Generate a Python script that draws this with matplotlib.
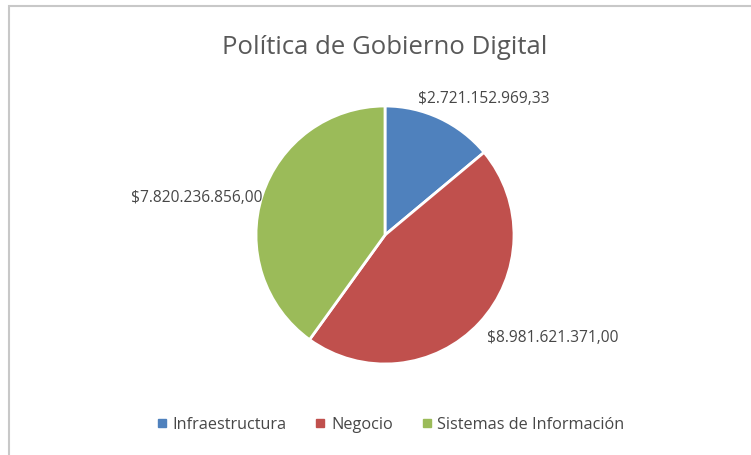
import matplotlib
matplotlib.use("Agg")
import matplotlib.pyplot as plt
from matplotlib.patches import Rectangle
from matplotlib.lines import Line2D

# Budget by component of the digital government policy
categories = ["Infraestructura", "Negocio", "Sistemas de Información"]
values = [2721152969.33, 8981621371.00, 7820236856.00]
labels = ["$2.721.152.969,33", "$8.981.621.371,00", "$7.820.236.856,00"]
colors = ["#4F81BD", "#C0504D", "#9BBB59"]

W, H, DPI = 751, 455, 100
cx, cy, R = 385, 235, 129  # pie centre and radius in pixels (from top-left)

# label anchors in pie-radius units, relative to the centre
label_pos = [(0.255, 1.054, "left"), (0.79, -0.798, "left"), (-0.953, 0.287, "right")]

plt.rcParams["font.family"] = ["Open Sans", "DejaVu Sans"]
fig = plt.figure(figsize=(W / DPI, H / DPI), dpi=DPI)
fig.patch.set_facecolor("white")

# chart area frame
fig.patches.append(Rectangle((9 / W, -0.1), 1.2, (H - 6) / H + 0.1,
                             transform=fig.transFigure, fill=False,
                             edgecolor="#c8c8c8", linewidth=1.5))

ax = fig.add_axes([0, 0, 1, 1])
wedges, _ = ax.pie(values, colors=colors, startangle=90, counterclock=False,
                   radius=1.0, center=(0, 0),
                   wedgeprops=dict(edgecolor="white", linewidth=2))
ax.set_xlim(-cx / R, (W - cx) / R)
ax.set_ylim(-(H - cy) / R, cy / R)
ax.set_aspect("equal")
ax.axis("off")

for lab, (x, y, ha) in zip(labels, label_pos):
    ax.text(x, y, lab, ha=ha, va="center", fontsize=11.2, color="#474747")

fig.text(cx / W, 1 - 47 / H, "Política de Gobierno Digital", ha="center",
         va="center", fontsize=18.5, color="#595959")

handles = [Line2D([], [], marker="s", linestyle="none", markersize=6,
                  markerfacecolor=c, markeredgecolor=c) for c in colors]
fig.legend(handles, categories, loc="center", bbox_to_anchor=(389 / W, 1 - 425 / H),
           ncol=3, frameon=False, fontsize=11.7, handletextpad=0.15,
           handlelength=1.0, columnspacing=1.6, labelcolor="#474747")

fig.savefig("out.png", dpi=DPI)
